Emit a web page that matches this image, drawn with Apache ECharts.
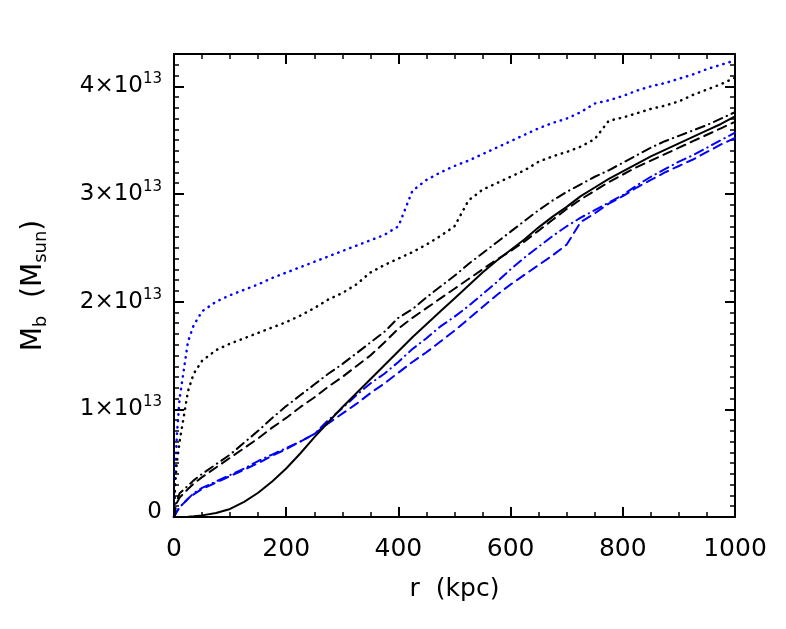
<!DOCTYPE html>
<html>
<head>
<meta charset="utf-8">
<script src="https://cdn.jsdelivr.net/npm/echarts@6.0.0/dist/echarts.min.js"></script>
<style>
html, body { margin: 0; padding: 0; background: #fff; }
#chart { width: 786px; height: 629px; }
</style>
</head>
<body>
<div id="chart"></div>
<script>
// r in kpc, masses in units of 1e13 M_sun
const radius = [0, 2, 5, 10, 25, 35, 50, 75, 100, 125, 150, 175, 200, 225, 250, 275, 300, 325, 350, 375, 400, 425, 450, 475, 500, 525, 550, 575, 600, 625, 650, 675, 700, 725, 750, 775, 800, 825, 850, 875, 900, 925, 950, 975, 1000];

const blackSolid = [0, 0, 0, 0.001, 0.003, 0.007, 0.015, 0.037, 0.075, 0.14, 0.225, 0.33, 0.45, 0.59, 0.74, 0.88, 1.02, 1.15, 1.28, 1.41, 1.54, 1.67, 1.79, 1.91, 2.03, 2.15, 2.27, 2.38, 2.48, 2.58, 2.69, 2.79, 2.88, 2.98, 3.06, 3.14, 3.21, 3.28, 3.35, 3.41, 3.47, 3.53, 3.59, 3.65, 3.72];
const blackDashed = [0, 0.06, 0.13, 0.18, 0.26, 0.31, 0.37, 0.46, 0.55, 0.64, 0.73, 0.83, 0.92, 1.02, 1.11, 1.21, 1.30, 1.40, 1.50, 1.62, 1.75, 1.85, 1.94, 2.03, 2.12, 2.21, 2.30, 2.39, 2.47, 2.56, 2.66, 2.76, 2.86, 2.95, 3.03, 3.11, 3.18, 3.25, 3.31, 3.37, 3.43, 3.49, 3.55, 3.61, 3.67];
const blackDashDot = [0, 0.08, 0.15, 0.22, 0.29, 0.34, 0.40, 0.49, 0.58, 0.69, 0.80, 0.92, 1.03, 1.13, 1.23, 1.33, 1.42, 1.52, 1.62, 1.72, 1.85, 1.93, 2.04, 2.14, 2.24, 2.35, 2.45, 2.55, 2.65, 2.75, 2.85, 2.94, 3.02, 3.09, 3.16, 3.22, 3.29, 3.36, 3.43, 3.49, 3.54, 3.59, 3.64, 3.70, 3.76];
const blackDotted = [0, 0.3, 0.5, 0.7, 1.17, 1.33, 1.45, 1.55, 1.61, 1.66, 1.71, 1.76, 1.81, 1.87, 1.94, 2.02, 2.08, 2.16, 2.27, 2.34, 2.40, 2.46, 2.53, 2.61, 2.70, 2.94, 3.04, 3.10, 3.16, 3.22, 3.30, 3.35, 3.39, 3.44, 3.51, 3.68, 3.71, 3.75, 3.79, 3.82, 3.86, 3.92, 3.97, 4.02, 4.08];
const blueDotted = [0, 0.4, 0.75, 1.1, 1.63, 1.78, 1.91, 2.00, 2.06, 2.11, 2.16, 2.22, 2.27, 2.32, 2.37, 2.42, 2.47, 2.52, 2.57, 2.62, 2.70, 3.03, 3.13, 3.20, 3.26, 3.31, 3.37, 3.43, 3.49, 3.55, 3.61, 3.66, 3.70, 3.76, 3.84, 3.87, 3.91, 3.96, 4.00, 4.03, 4.07, 4.11, 4.16, 4.20, 4.24];
const blueDashed = [0, 0.02, 0.05, 0.09, 0.17, 0.21, 0.26, 0.32, 0.38, 0.44, 0.50, 0.57, 0.63, 0.70, 0.77, 0.87, 0.96, 1.05, 1.15, 1.24, 1.34, 1.44, 1.53, 1.63, 1.73, 1.84, 1.95, 2.06, 2.16, 2.25, 2.34, 2.43, 2.53, 2.74, 2.82, 2.91, 2.98, 3.06, 3.13, 3.20, 3.26, 3.32, 3.39, 3.46, 3.52];
const blueDashDot = [0, 0.02, 0.05, 0.09, 0.17, 0.22, 0.27, 0.33, 0.39, 0.45, 0.52, 0.58, 0.64, 0.70, 0.77, 0.90, 1.01, 1.13, 1.24, 1.33, 1.44, 1.56, 1.66, 1.77, 1.86, 1.96, 2.07, 2.18, 2.30, 2.41, 2.51, 2.61, 2.70, 2.78, 2.85, 2.92, 2.99, 3.08, 3.16, 3.23, 3.30, 3.36, 3.43, 3.50, 3.57];

const yTickLabels = ['0', '1×10', '2×10', '3×10', '4×10'];
const yExponent = '13';

const FONT = 'DejaVu Sans';
const BLUE = '#0000ff';

const pairs = vals => radius.map((r, i) => [r, vals[i]]);

const line = (vals, color, type, width) => ({
  type: 'line',
  data: pairs(vals),
  showSymbol: false,
  silent: true,
  lineStyle: { color: color, width: width, type: type, cap: type === 'solid' ? 'butt' : 'round' }
});

const DOT = [0.4, 6];
const DASH = [9, 6];
const DASHDOT = [9, 5, 0.4, 5];

const tickStyle = { color: '#000', width: 2 };

const xAxisBase = (pos, labels) => ({
  type: 'value',
  position: pos,
  min: 0,
  max: 1000,
  interval: 200,
  axisLine: { show: true, onZero: false, lineStyle: tickStyle },
  axisTick: { show: true, inside: true, length: 10, lineStyle: tickStyle },
  minorTick: { show: true, splitNumber: 4, length: 5, lineStyle: { color: '#000', width: 1.5 } },
  splitLine: { show: false },
  axisLabel: { show: labels, fontFamily: FONT, fontSize: 25, color: '#000', margin: 20, formatter: v => String(v) }
});

const yAxisBase = (pos, labels) => ({
  type: 'value',
  position: pos,
  min: 0,
  max: 4.3,
  interval: 1,
  axisLine: { show: true, onZero: false, lineStyle: tickStyle },
  axisTick: { show: true, inside: true, length: 10, lineStyle: tickStyle },
  minorTick: { show: true, splitNumber: 10, length: 5, lineStyle: { color: '#000', width: 1.5 } },
  splitLine: { show: false },
  axisLabel: {
    show: labels,
    showMaxLabel: false,
    margin: 12,
    color: '#000',
    fontFamily: FONT,
    formatter: v => {
      const i = Math.round(v);
      if (i === 0) return '{z|' + yTickLabels[0] + '}';
      return '{n|' + yTickLabels[i] + '}{e|' + yExponent + '}';
    },
    rich: {
      n: { fontFamily: FONT, fontSize: 23, color: '#000' },
      z: { fontFamily: FONT, fontSize: 23, color: '#000', padding: [0, 0, 10, 0] },
      e: { fontFamily: FONT, fontSize: 15, color: '#000', padding: [0, 0, 14, 0] }
    }
  }
});

const chart = echarts.init(document.getElementById('chart'));
chart.setOption({
  animation: false,
  backgroundColor: '#fff',
  grid: { left: 174, right: 51, top: 54, bottom: 112, containLabel: false, outerBoundsMode: 'none' },
  xAxis: [
    Object.assign(xAxisBase('bottom', true), {
      name: 'r  (kpc)',
      nameLocation: 'middle',
      nameGap: 60,
      nameTextStyle: { fontFamily: FONT, fontSize: 25, color: '#000' }
    }),
    xAxisBase('top', false)
  ],
  yAxis: [
    Object.assign(yAxisBase('left', true), {
      name: '{t|M}{s|b}{t|  (M}{s|sun}{t|)}',
      nameLocation: 'middle',
      nameGap: 124,
      nameRotate: 90,
      nameTextStyle: {
        rich: {
          t: { fontFamily: FONT, fontSize: 28, color: '#000' },
          s: { fontFamily: FONT, fontSize: 18, color: '#000', padding: [14, 0, 0, 0] }
        }
      }
    }),
    yAxisBase('right', false)
  ],
  series: [
    line(blueDotted, BLUE, DOT, 2.5),
    line(blackDotted, '#000', DOT, 2.5),
    line(blueDashed, BLUE, DASH, 2),
    line(blueDashDot, BLUE, DASHDOT, 2),
    line(blackDashed, '#000', DASH, 2),
    line(blackDashDot, '#000', DASHDOT, 2),
    line(blackSolid, '#000', 'solid', 2)
  ]
});
</script>
</body>
</html>
